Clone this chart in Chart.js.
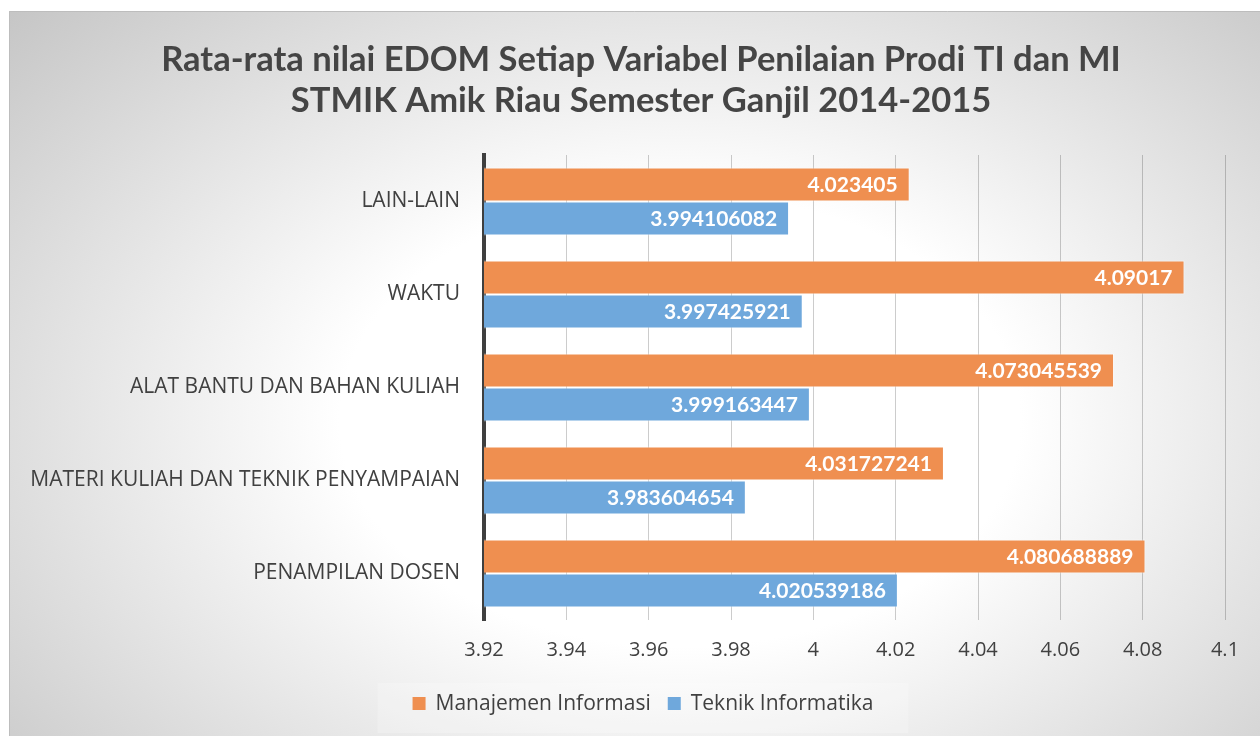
<!DOCTYPE html>
<html>
<head>
<meta charset="utf-8">
<title>Rata-rata nilai EDOM</title>
<script src="https://cdn.jsdelivr.net/npm/chart.js@4.4.1/dist/chart.umd.min.js"></script>
<style>
  html, body { margin: 0; padding: 0; background: #fff; }
  canvas { display: block; }
</style>
</head>
<body>
<canvas id="edomChart" width="1260" height="736"></canvas>
<script>
// data
const kategori = ['LAIN-LAIN', 'WAKTU', 'ALAT BANTU DAN BAHAN KULIAH', 'MATERI KULIAH DAN TEKNIK PENYAMPAIAN', 'PENAMPILAN DOSEN'];
const nilaiMI = [4.023405, 4.09017, 4.073045539, 4.031727241, 4.080688889];
const nilaiTI = [3.994106082, 3.997425921, 3.999163447, 3.983604654, 4.020539186];
const namaSeri = ['Manajemen Informasi', 'Teknik Informatika'];
const labelSumbu = ['3.92', '3.94', '3.96', '3.98', '4', '4.02', '4.04', '4.06', '4.08', '4.1'];
const judul = ['Rata-rata nilai EDOM Setiap Variabel Penilaian Prodi TI dan MI', 'STMIK Amik Riau Semester Ganjil 2014-2015'];

const warnaMI = '#EF8F50';
const warnaTI = '#6FA8DC';
const warnaTeks = '#404040';

// latar belakang gradasi + bingkai
const latarPlugin = {
  id: 'latar',
  beforeDraw(chart) {
    const ctx = chart.ctx;
    const w = chart.width, h = chart.height;
    ctx.save();
    ctx.fillStyle = '#ffffff';
    ctx.fillRect(0, 0, w, h);
    ctx.beginPath();
    ctx.rect(9, 11, w - 9, h - 11);
    ctx.clip();
    ctx.translate(680, 420);
    ctx.scale(1.5, 1);
    const g = ctx.createRadialGradient(0, 0, 0, 0, 0, 630);
    g.addColorStop(0, '#ffffff');
    g.addColorStop(0.36, '#ffffff');
    g.addColorStop(1, '#c2c2c2');
    ctx.fillStyle = g;
    ctx.fillRect(-700, -500, 1400, 1000);
    ctx.restore();
    ctx.save();
    ctx.strokeStyle = '#bdbdbd';
    ctx.lineWidth = 1;
    ctx.beginPath();
    ctx.moveTo(9.5, h);
    ctx.lineTo(9.5, 11.5);
    ctx.lineTo(w, 11.5);
    ctx.stroke();
    ctx.restore();
  }
};

// judul, label nilai dan legenda
const teksPlugin = {
  id: 'teks',
  afterDatasetsDraw(chart) {
    const ctx = chart.ctx;
    ctx.save();
    ctx.font = 'bold 21px Lato';
    ctx.fillStyle = '#ffffff';
    ctx.textAlign = 'right';
    ctx.textBaseline = 'middle';
    chart.data.datasets.forEach((ds, i) => {
      chart.getDatasetMeta(i).data.forEach((bar, j) => {
        ctx.fillText(String(ds.data[j]), bar.x - 12, bar.y + 1);
      });
    });
    ctx.restore();
  },
  afterDraw(chart) {
    const ctx = chart.ctx;
    ctx.save();
    // judul
    ctx.font = 'bold 34.5px Lato';
    ctx.fillStyle = '#454545';
    ctx.textAlign = 'center';
    ctx.textBaseline = 'middle';
    judul.forEach((baris, i) => ctx.fillText(baris, 641, 60 + i * 41));

    // legenda
    ctx.font = '21px "Open Sans"';
    const kotak = 13, jarak = 10, antar = 17;
    const lebar = chart.data.datasets.map(ds => kotak + jarak + ctx.measureText(ds.label).width);
    const total = lebar.reduce((a, b) => a + b, 0) + antar * (lebar.length - 1);
    let x = 643 - total / 2;
    const yTengah = 704;
    ctx.fillStyle = 'rgba(255,255,255,0.22)';
    ctx.fillRect(x - 35, 683, total + 70, 50);
    ctx.textAlign = 'left';
    chart.data.datasets.forEach((ds, i) => {
      ctx.fillStyle = ds.backgroundColor;
      ctx.fillRect(x, yTengah - 7, kotak, kotak);
      ctx.fillStyle = warnaTeks;
      ctx.fillText(ds.label, x + kotak + jarak, yTengah);
      x += lebar[i] + antar;
    });
    ctx.restore();
  }
};

function buatGrafik() {
  const ctx = document.getElementById('edomChart').getContext('2d');
  new Chart(ctx, {
    type: 'bar',
    data: {
      labels: kategori,
      datasets: [
        { label: namaSeri[0], data: nilaiMI, backgroundColor: warnaMI, borderColor: 'rgba(255,255,255,0.55)', borderWidth: 1 },
        { label: namaSeri[1], data: nilaiTI, backgroundColor: warnaTI, borderColor: 'rgba(255,255,255,0.55)', borderWidth: 1 }
      ]
    },
    options: {
      indexAxis: 'y',
      responsive: false,
      animation: false,
      devicePixelRatio: 1,
      barPercentage: 1,
      categoryPercentage: 0.73,
      layout: { padding: { top: 155, left: 9, right: 35, bottom: 56 } },
      scales: {
        x: {
          type: 'linear',
          min: 3.92,
          max: 4.1,
          ticks: {
            stepSize: 0.02,
            color: warnaTeks,
            font: { family: '"Open Sans"', size: 20 },
            padding: 18,
            maxRotation: 0,
            autoSkip: false,
            callback: (v, i) => labelSumbu[i]
          },
          grid: { color: 'rgba(0,0,0,0.2)', lineWidth: 1, drawTicks: false },
          border: { display: false },
          afterFit(s) { s.height = 60; }
        },
        y: {
          ticks: {
            color: warnaTeks,
            font: { family: '"Open Sans"', size: 21 },
            padding: 24,
            autoSkip: false
          },
          grid: { display: false, drawTicks: false },
          border: { display: true, color: '#3f3f3f', width: 4 },
          afterFit(s) { s.width = 475; }
        }
      },
      plugins: {
        legend: { display: false },
        title: { display: false },
        tooltip: { enabled: false }
      }
    },
    plugins: [latarPlugin, teksPlugin]
  });
}

Promise.all([
  document.fonts.load('20px "Open Sans"'),
  document.fonts.load('bold 21px Lato')
]).then(buatGrafik, buatGrafik);
</script>
</body>
</html>
